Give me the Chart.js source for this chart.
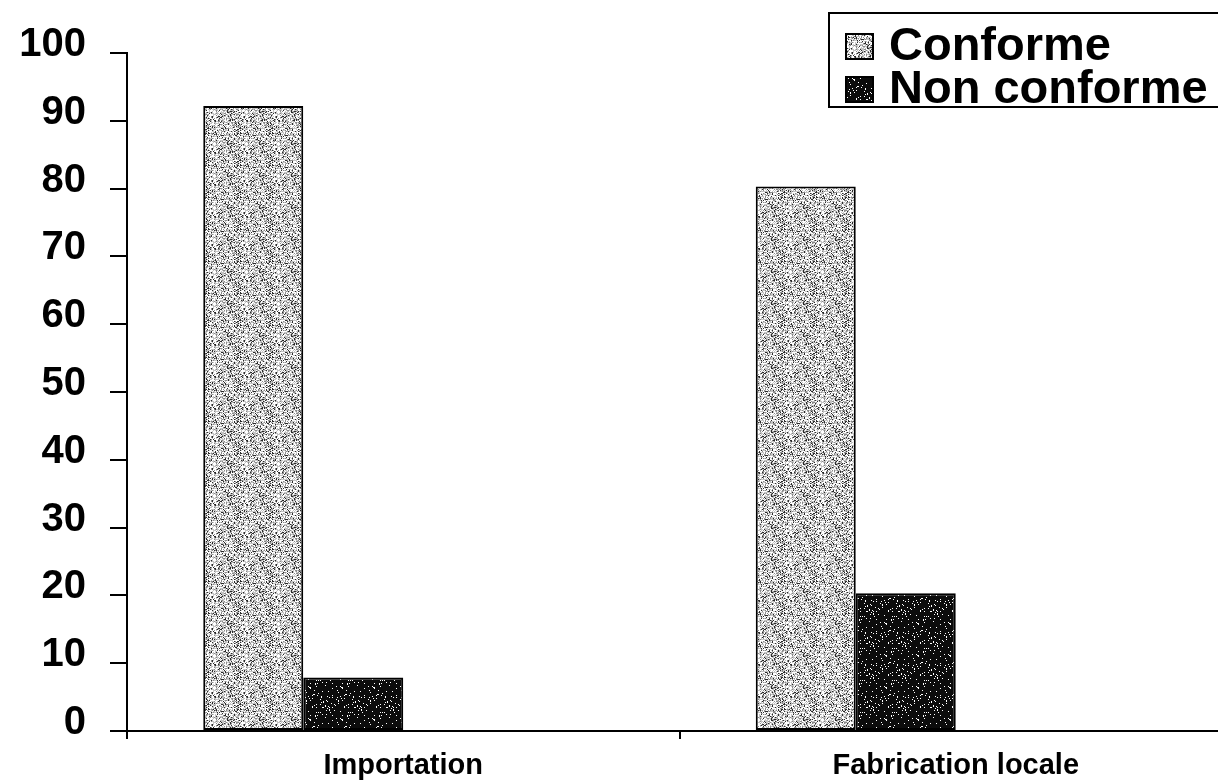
<!DOCTYPE html>
<html lang="fr">
<head>
    <meta charset="UTF-8">
    <title>Conformité</title>
    <style>
        body {
            margin: 0;
            padding: 0;
            background: #fff;
        }

        .wrap {
            width: 1218px;
            height: 780px;
            overflow: hidden;
        }
    </style>
</head>
<body>
    <div class="wrap">
        <canvas id="chart" width="1232" height="780"></canvas>
    </div>

    <script src="https://cdn.jsdelivr.net/npm/chart.js"></script>
    <script>
        const categories = ['Importation', 'Fabrication locale'];
        const conforme = [92.2, 80.3];
        const nonConforme = [7.9, 20.3];
        const emptySlot = [null, null];
        const yTicks = [0, 10, 20, 30, 40, 50, 60, 70, 80, 90, 100];

        const FONT = '"Liberation Sans", Arial, sans-serif';
        const canvas = document.getElementById('chart');
        const ctx = canvas.getContext('2d');

        // stipple textures like the scanned print
        function texture(pick) {
            const t = document.createElement('canvas');
            t.width = 32;
            t.height = 32;
            const tc = t.getContext('2d');
            for (let y = 0; y < 32; y++) {
                for (let x = 0; x < 32; x++) {
                    const h = (((x * 73856093) ^ (y * 19349663) ^ (x * y * 83492791)) >>> 0) % 100;
                    tc.fillStyle = pick(h);
                    tc.fillRect(x, y, 1, 1);
                }
            }
            return ctx.createPattern(t, 'repeat');
        }

        const grayPattern = texture(h => h < 38 ? '#ffffff' : h < 70 ? '#c4c4c4' : h < 88 ? '#8a8a8a' : '#2a2a2a');
        const blackPattern = texture(h => h < 7 ? '#ffffff' : '#0c0c0c');

        const legendBox = {
            id: 'legendBox',
            afterDraw(chart) {
                const c = chart.ctx;
                const items = chart.data.datasets.filter(d => d.inLegend);
                c.save();
                c.fillStyle = '#fff';
                c.strokeStyle = '#000';
                c.lineWidth = 2;
                c.fillRect(829, 13, 420, 94);
                c.strokeRect(829, 13, 420, 94);
                c.font = 'bold 47px ' + FONT;
                c.textBaseline = 'middle';
                items.forEach((d, i) => {
                    const y = 46 + i * 43;
                    c.fillStyle = d.backgroundColor;
                    c.fillRect(846, y - 12, 27, 25);
                    c.lineWidth = 2;
                    c.strokeRect(846, y - 12, 27, 25);
                    c.fillStyle = '#000';
                    c.fillText(d.label, 889, y + 1);
                });
                c.restore();
            }
        };

        new Chart(ctx, {
            type: 'bar',
            data: {
                labels: categories,
                datasets: [
                    {
                        label: 'Conforme',
                        data: conforme,
                        backgroundColor: grayPattern,
                        borderColor: '#000',
                        borderWidth: 2,
                        borderSkipped: false,
                        inLegend: true
                    },
                    {
                        label: 'Non conforme',
                        data: nonConforme,
                        backgroundColor: blackPattern,
                        borderColor: '#000',
                        borderWidth: 2,
                        borderSkipped: false,
                        inLegend: true
                    },
                    // two empty series keep the bars on the left half of each group
                    { label: '', data: emptySlot },
                    { label: '', data: emptySlot }
                ]
            },
            options: {
                responsive: false,
                animation: false,
                layout: {
                    padding: { top: 53, right: 0, left: 0, bottom: 0 }
                },
                datasets: {
                    bar: {
                        categoryPercentage: 0.724,
                        barPercentage: 1.0
                    }
                },
                plugins: {
                    legend: { display: false },
                    tooltip: { enabled: false }
                },
                scales: {
                    x: {
                        grid: {
                            drawOnChartArea: false,
                            color: '#000',
                            lineWidth: 2,
                            tickLength: 8
                        },
                        border: { display: true, color: '#000', width: 2 },
                        ticks: {
                            color: '#000',
                            padding: 10,
                            font: { family: FONT, size: 29, weight: 'bold' }
                        },
                        afterFit(scale) {
                            scale.height = 49;
                        }
                    },
                    y: {
                        min: 0,
                        max: 100,
                        afterBuildTicks(scale) {
                            scale.ticks = yTicks.map(v => ({ value: v }));
                        },
                        grid: {
                            drawOnChartArea: false,
                            color: '#000',
                            lineWidth: 2,
                            tickLength: 17
                        },
                        border: { display: true, color: '#000', width: 2 },
                        ticks: {
                            color: '#000',
                            padding: 24,
                            labelOffset: -8,
                            font: { family: FONT, size: 40, weight: 'bold' }
                        },
                        afterFit(scale) {
                            scale.width = 127;
                        }
                    }
                }
            },
            plugins: [legendBox]
        });
    </script>
</body>
</html>
